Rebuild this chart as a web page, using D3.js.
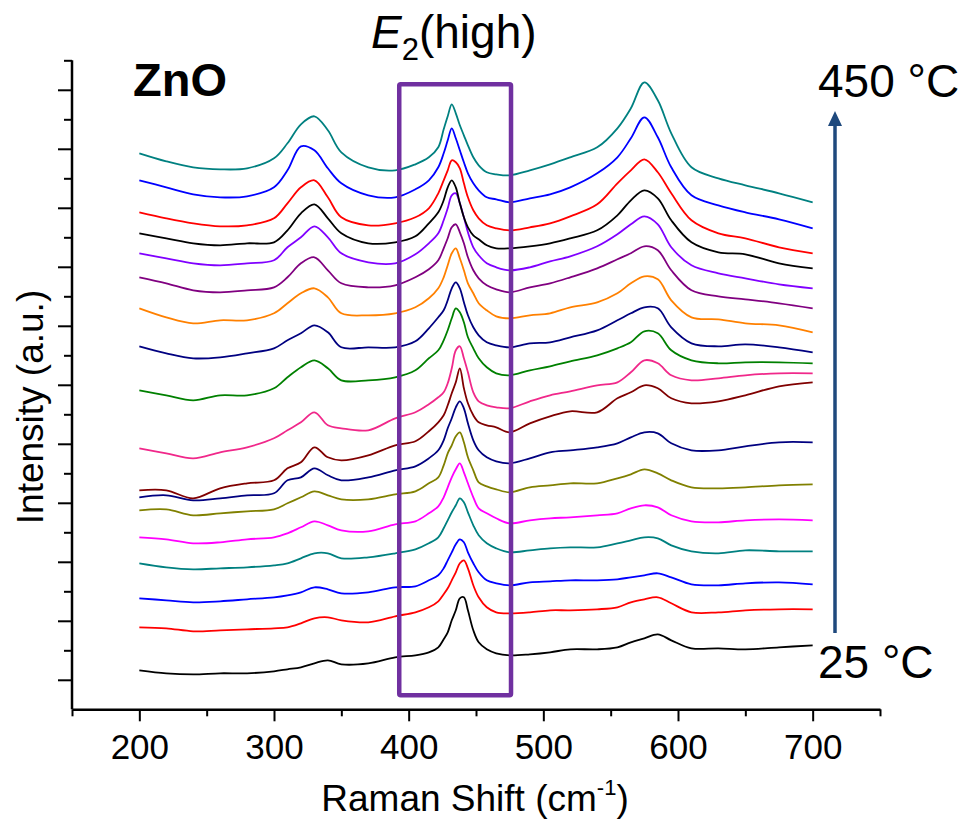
<!DOCTYPE html>
<html><head><meta charset="utf-8">
<script src="https://cdn.jsdelivr.net/npm/d3@7"></script>
<style>html,body{margin:0;padding:0;background:#fff}svg{display:block}</style>
</head><body>
<svg id="chart" width="967" height="821"></svg>
<script>
// Raman shift sampling points (cm-1)
const ramanShift = [200,220,240,260,280,300,310,320,330,340,350,370,390,
  405,415,422,426,429,432,435,438,441,444,448,452,458,465,475,
  490,505,520,540,555,565,575,585,595,610,630,650,675,700];

const temperatures = [25,50,75,100,125,150,175,200,225,250,275,300,325,350,375,400,425,450];
const lineColors = ["#000000","#ff0000","#0000ff","#008080","#ff00ff","#808000","#000080","#800000",
  "#f0288a","#008000","#000080","#ff8000","#800080","#8000ff","#000000","#ff0000","#0000ff","#008080"];

// stacked intensities (a.u., offset included)
const intensity25  = [39,36,35,36,36,38,40,42,46,49,45,46,52, 54,57,62,70,77,89,99,111,112,99,79,67,60,56,54, 55,57,60,60,62,67,71,75,69,61,61,60,62,64];
const intensity50  = [82,81,78,79,80,81,82,86,91,92,89,87,93, 97,102,108,115,121,129,137,146,149,141,124,112,102,97,96, 97,99,99,100,102,107,110,112,106,97,97,99,100,100];
const intensity75  = [111,109,107,108,110,112,114,117,122,120,116,117,122, 123,129,134,141,149,157,165,170,167,157,146,137,129,126,124, 127,128,129,129,130,132,134,136,132,125,124,126,127,125];
const intensity100 = [146,142,140,141,142,144,146,151,156,156,151,152,156, 160,166,172,181,189,197,204,211,207,197,184,174,166,161,157, 159,161,162,162,166,169,172,171,164,158,156,159,158,158];
const intensity125 = [172,170,166,167,170,172,176,182,188,184,179,178,185, 188,196,203,212,222,232,240,246,237,226,212,201,196,191,186, 189,191,192,194,196,201,204,202,194,188,187,189,190,189];
const intensity150 = [199,200,194,196,198,200,206,212,218,214,210,210,215, 218,226,232,244,256,264,273,277,267,252,239,227,223,220,217, 222,224,226,226,231,235,240,236,229,222,221,222,224,225];
const intensity175 = [212,214,209,211,214,216,229,232,241,234,229,232,239, 243,251,259,269,281,291,302,308,301,286,269,259,252,248,246, 251,257,259,262,266,272,277,276,266,259,259,263,267,267];
const intensity200 = [219,219,211,221,226,229,241,247,262,252,249,254,264, 268,278,287,294,304,316,327,341,321,306,294,287,284,282,277, 286,293,298,297,311,317,324,321,311,306,308,314,323,327];
const intensity225 = [261,256,251,257,262,271,279,287,297,284,281,279,291, 297,305,312,317,326,341,359,363,351,337,317,308,304,302,301, 308,314,318,324,327,337,349,346,334,329,331,334,336,336];
const intensity250 = [319,314,309,314,314,321,332,342,349,341,329,329,332, 339,351,359,369,379,391,401,397,387,372,361,351,342,336,334, 339,343,348,354,361,367,378,376,359,349,346,347,347,346];
const intensity275 = [363,356,351,352,356,361,369,376,384,377,362,362,362, 368,381,392,399,409,421,427,421,407,394,382,374,367,364,362, 366,367,372,379,389,396,402,401,382,366,363,365,362,357];
const intensity300 = [401,392,386,389,389,396,406,416,421,412,396,394,396, 402,411,421,432,444,456,461,451,439,426,416,406,399,393,391, 394,396,402,407,416,426,433,430,409,392,390,386,384,377];
const intensity325 = [432,426,419,417,419,422,432,446,452,439,426,422,424, 432,440,449,461,471,482,485,477,466,452,439,431,424,420,417, 422,426,432,441,450,456,463,459,439,419,413,410,406,401];
const intensity350 = [456,451,446,444,446,449,462,472,483,472,456,447,446, 455,466,476,489,501,514,516,506,492,477,462,454,446,442,439, 442,448,453,463,475,485,493,485,462,444,436,431,425,421];
const intensity375 = [476,471,466,464,466,467,479,496,505,491,476,466,467, 473,486,497,509,522,529,522,506,492,482,474,470,464,461,461, 463,466,471,479,494,509,519,511,489,467,457,455,446,441];
const intensity400 = [497,491,486,483,484,491,506,522,529,512,492,484,486, 492,501,516,529,539,549,547,541,526,512,499,491,484,481,479, 482,486,493,505,526,539,550,537,516,489,476,471,462,456];
const intensity425 = [529,522,515,512,513,522,539,563,559,541,526,514,512, 520,529,542,556,569,581,571,559,547,536,526,519,512,510,507, 511,515,522,536,552,571,592,572,542,514,504,497,490,481];
const intensity450 = [556,548,542,540,541,551,566,585,593,579,557,542,539, 545,552,562,580,593,605,596,584,574,564,552,544,537,535,534, 539,545,552,562,581,601,627,609,576,542,531,524,516,507];

const spectra = [intensity25,intensity50,intensity75,intensity100,intensity125,intensity150,
  intensity175,intensity200,intensity225,intensity250,intensity275,intensity300,intensity325,
  intensity350,intensity375,intensity400,intensity425,intensity450];

const xMajorTicks = [200,300,400,500,600,700];
const xMinorTicks = [150,250,350,450,550,650,750];
const yTickCount = 22;
const e2Window = [393, 476];       // cm-1
const e2WindowY = [14, 625];        // a.u.

const FONT = "'Liberation Sans', Arial, sans-serif";
const svg = d3.select("#chart");
const x = d3.scaleLinear().domain([150, 750]).range([72, 880]);
const y = d3.scaleLinear().domain([0, 649]).range([709.3, 60.3]);
const yStep = 649 / yTickCount;
const yMajor = d3.range(1, yTickCount + 1, 2).map(k => k * yStep);
const yMinor = d3.range(2, yTickCount + 1, 2).map(k => k * yStep);

// spectra
const line = d3.line().x((d, i) => x(ramanShift[i])).y(d => y(d)).curve(d3.curveCatmullRom.alpha(0.5));
svg.append("g").selectAll("path").data(spectra).join("path")
  .attr("d", line).attr("fill", "none")
  .attr("stroke", (d, i) => lineColors[i]).attr("stroke-width", 1.8)
  .attr("stroke-linejoin", "round");

// E2(high) window
svg.append("rect")
  .attr("x", x(e2Window[0])).attr("y", y(e2WindowY[1]))
  .attr("width", x(e2Window[1]) - x(e2Window[0]))
  .attr("height", y(e2WindowY[0]) - y(e2WindowY[1]))
  .attr("fill", "none").attr("stroke", "#7030a0").attr("stroke-width", 4.5).attr("rx", 1.5);

// axes
function styleAxis(g) {
  g.selectAll("path.domain").attr("stroke", "#000").attr("stroke-width", 2.5);
  g.selectAll(".tick line").attr("stroke", "#000").attr("stroke-width", 2);
}
const gxMinor = svg.append("g").attr("transform", `translate(0,${y(0)})`)
  .call(d3.axisBottom(x).tickValues(xMinorTicks).tickSize(7).tickSizeOuter(0).tickFormat(""));
const gx = svg.append("g").attr("transform", `translate(0,${y(0)})`)
  .call(d3.axisBottom(x).tickValues(xMajorTicks).tickSize(12).tickSizeOuter(0).tickFormat(d3.format("d")));
gx.selectAll(".tick text").attr("y", 50).attr("dy", 0)
  .attr("font-family", FONT).attr("font-size", 35).attr("fill", "#000");
styleAxis(gxMinor); styleAxis(gx);
gxMinor.select("path.domain").remove();

const gyMinor = svg.append("g").attr("transform", `translate(${x(150)},0)`)
  .call(d3.axisLeft(y).tickValues(yMinor).tickSize(8).tickSizeOuter(0).tickFormat(""));
const gy = svg.append("g").attr("transform", `translate(${x(150)},0)`)
  .call(d3.axisLeft(y).tickValues(yMajor).tickSize(14).tickSizeOuter(0).tickFormat(""));
styleAxis(gyMinor); styleAxis(gy);
gyMinor.select("path.domain").remove();
gy.select("path.domain").attr("d", `M0,${y(0)}V${y(649)}`);

// axis titles
const xt = svg.append("text").attr("x", 475).attr("y", 811).attr("text-anchor", "middle")
  .attr("font-family", FONT).attr("font-size", 37).attr("fill", "#000");
xt.append("tspan").text("Raman Shift (cm");
xt.append("tspan").attr("font-size", 22).attr("dy", -16).text("-1");
xt.append("tspan").attr("dy", 16).text(")");

svg.append("text").attr("transform", "translate(43,407) rotate(-90)")
  .attr("text-anchor", "middle").attr("font-family", FONT).attr("font-size", 37)
  .attr("fill", "#000").text("Intensity (a.u.)");

// annotations
svg.append("text").attr("x", 133).attr("y", 96).attr("font-family", FONT)
  .attr("font-size", 47).attr("font-weight", "bold").attr("fill", "#000").text("ZnO");

const e2 = svg.append("text").attr("x", 371).attr("y", 48).attr("font-family", FONT)
  .attr("font-size", 46).attr("fill", "#000");
e2.append("tspan").attr("font-style", "italic").text("E");
e2.append("tspan").attr("font-size", 31).attr("dy", 12).text("2");
e2.append("tspan").attr("dy", -12).text("(high)");

svg.append("text").attr("x", 818).attr("y", 97).attr("font-family", FONT)
  .attr("font-size", 46).attr("fill", "#000").text(`${temperatures[temperatures.length-1]} °C`);
svg.append("text").attr("x", 818).attr("y", 678).attr("font-family", FONT)
  .attr("font-size", 46).attr("fill", "#000").text(`${temperatures[0]} °C`);

// temperature arrow
const ax = 835;
svg.append("line").attr("x1", ax).attr("x2", ax).attr("y1", 633).attr("y2", 122)
  .attr("stroke", "#1f497d").attr("stroke-width", 3.5);
svg.append("path").attr("d", `M${ax},111 L${ax-7},126 L${ax+7},126 Z`).attr("fill", "#1f497d");
</script>
</body></html>
